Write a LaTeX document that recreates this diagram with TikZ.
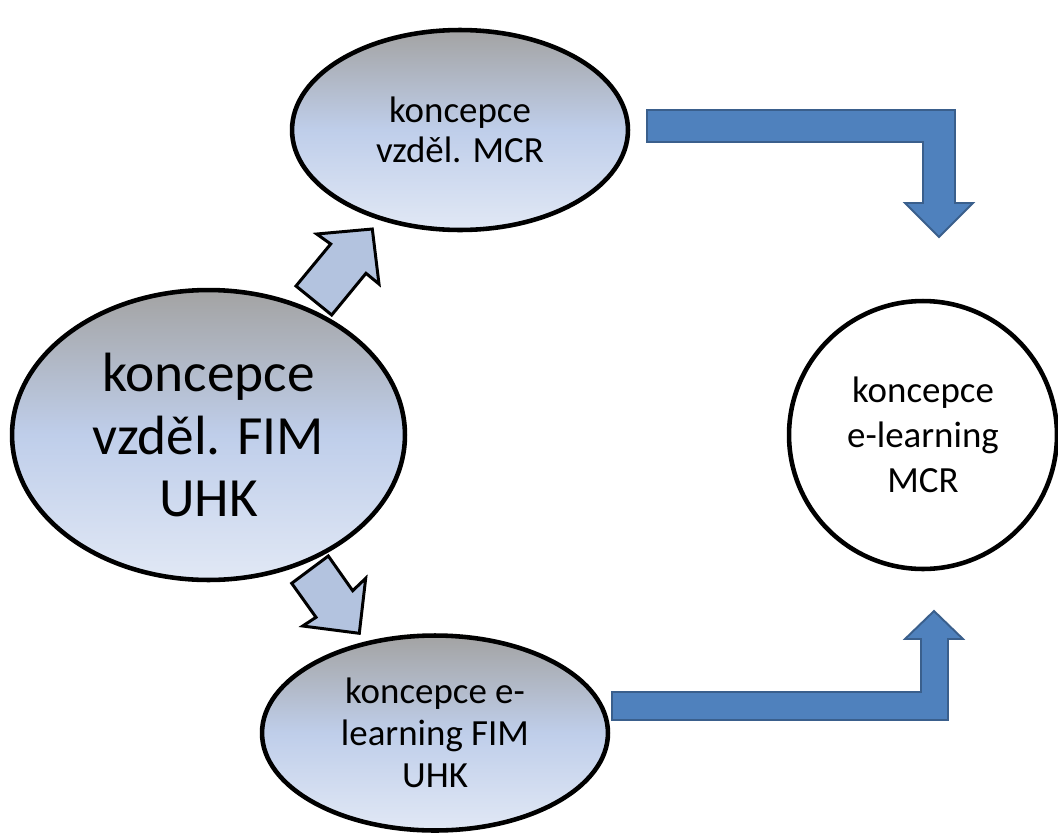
\documentclass[tikz,border=0pt]{standalone}
\usepackage{fontspec}
\setmainfont{Carlito}
\usetikzlibrary{shapes.geometric, positioning, calc}
\definecolor{ShadeTop}{HTML}{A3A3A3}
\definecolor{ShadeMid}{HTML}{BFCEEA}
\definecolor{ShadeLow}{HTML}{E1E8F5}
\definecolor{SoftBlue}{HTML}{B3C3DF}
\definecolor{FlowBlue}{HTML}{4F81BD}
\definecolor{FlowEdge}{HTML}{3A5F8C}

\begin{document}
\begin{tikzpicture}[
    x=0.02cm, y=-0.02cm,
    oval/.style={ellipse, draw=black, line width=2.6pt, inner sep=0pt, align=center,
                 top color=ShadeTop, bottom color=ShadeLow, middle color=ShadeMid},
    ring/.style={circle, draw=black, line width=2.6pt, fill=white, inner sep=0pt, align=center},
    tilt/.style={draw=black, line width=1.7pt, fill=SoftBlue, line join=miter},
    flow/.style={draw=FlowEdge, line width=1.1pt, fill=FlowBlue, line join=miter}
]
    \useasboundingbox (0,0) rectangle (1058,832);

    % Concepts
    \node[oval, minimum width=7.86cm, minimum height=5.8cm,
          font=\fontsize{31.5}{35.5}\selectfont] (fim) at (208.5,435) {koncepce\\vzděl. FIM\\UHK};
    \node[oval, minimum width=6.72cm, minimum height=4cm,
          font=\fontsize{21}{22.5}\selectfont] (mcr) at (460,130) {koncepce\\vzděl. MCR};
    \node[oval, minimum width=6.92cm, minimum height=3.9cm,
          font=\fontsize{21}{24}\selectfont] (elfim) at (435,733) {koncepce e-\\learning FIM\\UHK};
    \node[ring, minimum size=5.36cm,
          font=\fontsize{21}{25.5}\selectfont] (elmcr) at (923,435) {koncepce\\e-learning\\MCR};

    % Small arrows out of FIM
    \draw[tilt] (316.7,234) -- (330.7,244) -- (296,286) -- (331.7,315) -- (366,273.3)
        -- (379,284) -- (372.3,229) -- cycle;
    \draw[tilt] (291.7,583.3) -- (328.3,556) -- (352.7,590.7) -- (365.7,578.3)
        -- (359.3,633.3) -- (302.7,626) -- (316,617.3) -- cycle;

    % Bent arrows into e-learning MCR
    \draw[flow] (647,110) -- (955,110) -- (955,203) -- (973,203) -- (939,237)
        -- (905,203) -- (923,203) -- (923,142) -- (647,142) -- cycle;
    \draw[flow] (612,692) -- (921,692) -- (921,639) -- (905,639) -- (934,611)
        -- (963,639) -- (948,639) -- (948,720) -- (612,720) -- cycle;
\end{tikzpicture}
\end{document}
